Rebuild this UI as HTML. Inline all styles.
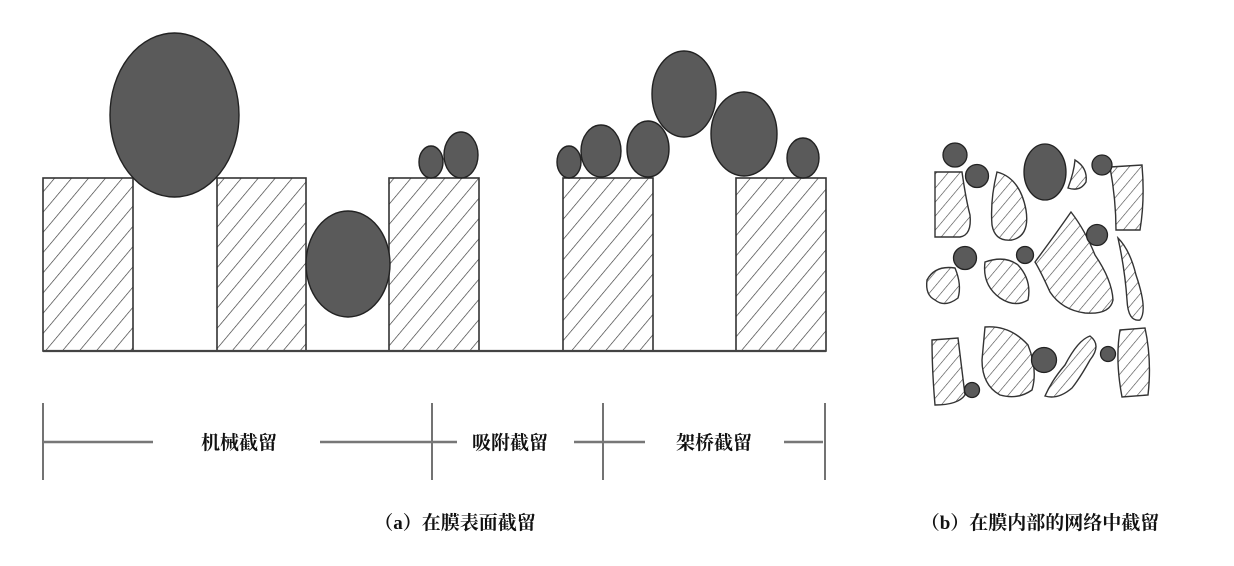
<!DOCTYPE html>
<html><head><meta charset="utf-8"><style>
html,body{margin:0;padding:0;background:#fff;}
svg{display:block;}
text{font-family:"Liberation Serif","Noto Serif CJK SC",serif;font-weight:bold;fill:#111;}
</style></head><body>
<svg width="1234" height="566" viewBox="0 0 1234 566" xmlns="http://www.w3.org/2000/svg">
<defs>
<pattern id="h" patternUnits="userSpaceOnUse" width="13" height="13" patternTransform="rotate(40)">
<line x1="0" y1="0" x2="0" y2="13" stroke="#333" stroke-width="1.3"/>
</pattern>
<pattern id="h2" patternUnits="userSpaceOnUse" width="9" height="9" patternTransform="rotate(40)">
<line x1="0" y1="0" x2="0" y2="9" stroke="#444" stroke-width="1.2"/>
</pattern>
</defs>
<g stroke="#333" stroke-width="1.6" fill="url(#h)">
<rect x="43" y="178" width="90" height="173"/>
<rect x="217" y="178" width="89" height="173"/>
<rect x="389" y="178" width="90" height="173"/>
<rect x="563" y="178" width="90" height="173"/>
<rect x="736" y="178" width="90" height="173"/>
</g>
<line x1="43" y1="351" x2="826" y2="351" stroke="#444" stroke-width="2.2"/>
<g fill="#5a5a5a" stroke="#222" stroke-width="1.4">
<ellipse cx="174.5" cy="115" rx="64.5" ry="82"/>
<ellipse cx="348" cy="264" rx="42" ry="53"/>
<ellipse cx="431" cy="162" rx="12" ry="16"/>
<ellipse cx="461" cy="155" rx="17" ry="23"/>
<ellipse cx="569" cy="162" rx="12" ry="16"/>
<ellipse cx="601" cy="151" rx="20" ry="26"/>
<ellipse cx="648" cy="149" rx="21" ry="28"/>
<ellipse cx="684" cy="94" rx="32" ry="43"/>
<ellipse cx="744" cy="134" rx="33" ry="42"/>
<ellipse cx="803" cy="158" rx="16" ry="20"/>
</g>
<g stroke="#444" stroke-width="1.5">
<line x1="43" y1="403" x2="43" y2="480"/>
<line x1="432" y1="403" x2="432" y2="480"/>
<line x1="603" y1="403" x2="603" y2="480"/>
<line x1="825" y1="403" x2="825" y2="480"/>
</g>
<g stroke="#777" stroke-width="2.5">
<line x1="43" y1="442" x2="153" y2="442"/>
<line x1="320" y1="442" x2="457" y2="442"/>
<line x1="574" y1="442" x2="645" y2="442"/>
<line x1="784" y1="442" x2="823" y2="442"/>
</g>
<text x="239" y="449" font-size="19" text-anchor="middle">机械截留</text>
<text x="510" y="449" font-size="19" text-anchor="middle">吸附截留</text>
<text x="714" y="449" font-size="19" text-anchor="middle">架桥截留</text>
<text x="455" y="529" font-size="19" text-anchor="middle">（a）在膜表面截留</text>
<text x="1040" y="529" font-size="19" text-anchor="middle">（b）在膜内部的网络中截留</text>
<g stroke="#333" stroke-width="1.4" fill="url(#h2)">
<path d="M935,172 L962,172 Q966,200 970,215 Q972,235 960,237 L935,237 Z"/>
<path d="M997,172 Q1020,178 1026,210 Q1030,236 1012,240 Q995,242 992,225 Q990,200 997,172 Z"/>
<path d="M1075,160 Q1088,168 1086,182 Q1080,192 1068,188 Q1074,172 1075,160 Z"/>
<path d="M1110,167 L1142,165 Q1145,200 1140,230 L1116,230 Q1116,200 1110,167 Z"/>
<path d="M1071,212 Q1085,230 1095,255 Q1112,280 1113,300 Q1110,315 1085,313 Q1062,310 1050,292 Q1040,270 1035,262 Q1055,235 1071,212 Z"/>
<path d="M1118,238 Q1130,250 1136,275 Q1148,310 1140,320 Q1128,322 1127,300 Q1125,270 1118,238 Z"/>
<path d="M955,268 Q962,285 958,298 Q945,308 935,300 Q925,295 927,280 Q935,265 955,268 Z"/>
<path d="M985,262 Q1005,255 1018,265 Q1032,280 1028,300 Q1015,308 1000,298 Q982,285 985,262 Z"/>
<path d="M932,340 L958,338 Q962,370 965,395 Q958,405 935,405 Q932,370 932,340 Z"/>
<path d="M985,327 Q1010,325 1028,345 Q1038,370 1032,390 Q1018,400 1000,395 Q982,385 982,360 Z"/>
<path d="M1090,336 Q1102,345 1090,360 Q1080,378 1072,388 Q1058,400 1045,396 Q1052,380 1065,365 Q1078,340 1090,336 Z"/>
<path d="M1120,330 L1145,328 Q1152,360 1148,395 L1122,397 Q1115,360 1120,330 Z"/>
</g>
<g fill="#5a5a5a" stroke="#222" stroke-width="1.3">
<circle cx="955" cy="155" r="12"/>
<circle cx="977" cy="176" r="11.5"/>
<ellipse cx="1045" cy="172" rx="21" ry="28"/>
<circle cx="1102" cy="165" r="10"/>
<circle cx="1097" cy="235" r="10.5"/>
<circle cx="965" cy="258" r="11.5"/>
<circle cx="1025" cy="255" r="8.5"/>
<circle cx="1044" cy="360" r="12.5"/>
<circle cx="1108" cy="354" r="7.5"/>
<circle cx="972" cy="390" r="7.5"/>
</g>
</svg>
</body></html>
